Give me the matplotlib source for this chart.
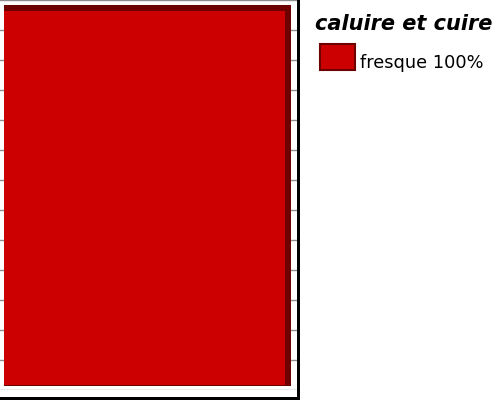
import matplotlib
matplotlib.use("Agg")
import matplotlib.pyplot as plt
from matplotlib.patches import Rectangle, Patch
from matplotlib.legend_handler import HandlerPatch
import numpy as np

# ---- data ----
categories = ["fresque"]
values = [100]
legend_title = "caluire et cuire"

RED = "#cc0000"
DARK = "#6e0000"
GRID = "#8f8f8f"

W, H = 500, 400
fig = plt.figure(figsize=(W / 100, H / 100), dpi=100)

# chart-area panel with black drop shadow
fig.patches.append(Rectangle((0, 0), 300 / W, 1, transform=fig.transFigure,
                             facecolor="black", edgecolor="none", zorder=-2))
fig.patches.append(Rectangle((0, 3 / H), 297 / W, 397 / H, transform=fig.transFigure,
                             facecolor="white", edgecolor="none", zorder=-1))

ax_w_px, ax_h_px = 297, 390
ax = fig.add_axes([0, 10 / H, ax_w_px / W, ax_h_px / H])
ax.set_zorder(1)
ax.patch.set_alpha(0)

# pixel geometry of the bar inside the axes
left_px, right_px = 4, 281 + 4
base_px, top_px = 5, 379
depth = 6
yscale = (top_px - base_px) / max(values)
xscale = (right_px - left_px) / 1.0
ax.set_ylim(-base_px / yscale, (ax_h_px - base_px) / yscale)
ax.set_xlim(-left_px / xscale, (ax_w_px - left_px) / xscale)

x = np.arange(len(categories))
for i, v in enumerate(values):
    # depth / shadow face
    ax.bar(x[i], v + depth / yscale + 1 / yscale, width=1 + depth / xscale,
           bottom=-1 / yscale, align="edge", color=DARK, zorder=2, linewidth=0)
    ax.bar(x[i], v, width=1, align="edge", color=RED, zorder=3, linewidth=0)

lo, hi = ax.get_ylim()
ax.set_yticks(np.linspace(lo, hi, 14))
ax.set_xticks([])
ax.yaxis.grid(True, color=GRID, linewidth=1)
ax.set_axisbelow(True)
ax.tick_params(left=False, labelleft=False)
for s in ax.spines.values():
    s.set_visible(False)

handles = [Patch(facecolor=RED, edgecolor=DARK, linewidth=1.5)]
labels = [f"{c} {v:.0f}%" for c, v in zip(categories, values)]
leg = fig.legend(handles, labels, title=legend_title, loc="upper left",
                 bbox_to_anchor=(308 / W, 1 - 7 / H), frameon=False,
                 prop={"family": "DejaVu Sans", "size": 12.8},
                 handlelength=2.25, handleheight=2.87, handletextpad=0.3,
                 labelspacing=0.58, alignment="left", borderaxespad=0,
                 handler_map={Patch: HandlerPatch(xpad=0.28, ypad=0.647)})
leg.get_title().set_fontsize(15)
leg.get_title().set_fontweight("bold")
leg.get_title().set_fontstyle("italic")

fig.savefig("out.png", dpi=100)
